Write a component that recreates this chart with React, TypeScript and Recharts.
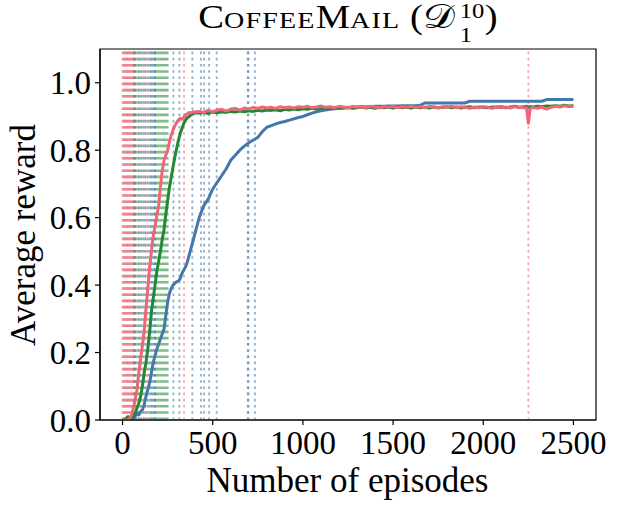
import React from 'react';
import { LineChart, Line, XAxis, YAxis, ReferenceLine, ReferenceArea } from 'recharts';

const episodes = [
  0, 10, 20, 30, 40, 50, 60, 70, 80, 90, 100, 110, 120, 130, 140, 150, 160, 170, 180, 190, 200,
  210, 220, 230, 240, 250, 260, 270, 280, 290, 300, 310, 320, 330, 340, 350, 360, 370, 380, 390, 400,
  425, 450, 475, 500, 525, 550, 575, 600, 625, 650, 675, 700, 725, 750, 775, 800,
  825, 850, 875, 900, 925, 950, 975, 1000, 1025, 1050, 1075, 1100, 1125, 1150, 1175, 1200,
  1225, 1250, 1275, 1300, 1325, 1350, 1375, 1400, 1425, 1450, 1475, 1500, 1525, 1550, 1575, 1600,
  1625, 1650, 1675, 1700, 1725, 1750, 1775, 1800, 1825, 1850, 1875, 1900, 1925, 1950, 1975, 2000,
  2025, 2050, 2075, 2100, 2125, 2150, 2175, 2200, 2225,
  2240, 2250, 2260,
  2275, 2300, 2325, 2350, 2375, 2400, 2425, 2450, 2475, 2500,
];

const blueReward = [
  0, 0, 0, 0, 0, 0, 0.005, 0.01, 0.02, 0.015, 0.025, 0.03, 0.045, 0.07, 0.09, 0.11, 0.14, 0.17, 0.19, 0.21, 0.225,
  0.24, 0.255, 0.27, 0.31, 0.35, 0.375, 0.39, 0.4, 0.405, 0.41, 0.412, 0.42, 0.435, 0.445, 0.455, 0.47, 0.49, 0.51, 0.53, 0.55,
  0.6, 0.635, 0.655, 0.685, 0.705, 0.725, 0.745, 0.77, 0.785, 0.8, 0.812, 0.822, 0.83, 0.838, 0.855, 0.868,
  0.873, 0.878, 0.882, 0.885, 0.889, 0.893, 0.897, 0.9, 0.905, 0.91, 0.914, 0.917, 0.919, 0.921, 0.923, 0.924,
  0.925, 0.926, 0.927, 0.928, 0.928, 0.929, 0.929, 0.93, 0.93, 0.93, 0.931, 0.931, 0.931, 0.932, 0.932, 0.932,
  0.932, 0.933, 0.94, 0.94, 0.94, 0.94, 0.94, 0.94, 0.94, 0.94, 0.94, 0.94, 0.945, 0.945, 0.945, 0.945,
  0.945, 0.945, 0.945, 0.945, 0.945, 0.945, 0.945, 0.945, 0.945,
  0.945, 0.945, 0.945,
  0.945, 0.945, 0.945, 0.95, 0.95, 0.95, 0.95, 0.95, 0.95, 0.95,
];

const greenReward = [
  0, 0, 0.005, 0.01, 0, 0, 0.01, 0.02, 0.035, 0.05, 0.07, 0.1, 0.14, 0.17, 0.21, 0.26, 0.32, 0.36, 0.4, 0.44, 0.47,
  0.5, 0.535, 0.565, 0.61, 0.65, 0.69, 0.72, 0.75, 0.78, 0.805, 0.83, 0.85, 0.865, 0.88, 0.89, 0.897, 0.9, 0.905, 0.908, 0.91,
  0.91, 0.912, 0.909, 0.913, 0.911, 0.914, 0.912, 0.915, 0.913, 0.916, 0.914, 0.917, 0.915, 0.918, 0.916, 0.919,
  0.918, 0.92, 0.917, 0.921, 0.919, 0.922, 0.92, 0.923, 0.921, 0.924, 0.922, 0.925, 0.923, 0.926, 0.924, 0.926,
  0.925, 0.927, 0.924, 0.926, 0.928, 0.925, 0.927, 0.924, 0.928, 0.926, 0.927, 0.925, 0.928, 0.926, 0.927, 0.925,
  0.928, 0.926, 0.927, 0.925, 0.928, 0.926, 0.927, 0.929, 0.926, 0.928, 0.925, 0.927, 0.929, 0.926, 0.928, 0.927,
  0.926, 0.928, 0.927, 0.929, 0.926, 0.928, 0.93, 0.927, 0.929,
  0.93, 0.928, 0.929,
  0.928, 0.93, 0.929, 0.931, 0.93, 0.932, 0.93, 0.933, 0.931, 0.932,
];

const redReward = [
  0, 0, 0, 0, 0.005, 0.015, 0.035, 0.06, 0.09, 0.14, 0.18, 0.22, 0.265, 0.33, 0.39, 0.45, 0.5, 0.545, 0.575, 0.605, 0.635,
  0.69, 0.74, 0.77, 0.785, 0.8, 0.825, 0.845, 0.86, 0.872, 0.882, 0.89, 0.894, 0.892, 0.898, 0.905, 0.908, 0.912, 0.91, 0.914, 0.913,
  0.915, 0.912, 0.918, 0.914, 0.919, 0.921, 0.916, 0.922, 0.924, 0.919, 0.925, 0.922, 0.927, 0.924, 0.928, 0.925,
  0.927, 0.924, 0.929, 0.926, 0.928, 0.925, 0.929, 0.927, 0.93, 0.926, 0.928, 0.931, 0.927, 0.929, 0.926, 0.93,
  0.928, 0.925, 0.93, 0.927, 0.929, 0.926, 0.93, 0.928, 0.925, 0.929, 0.927, 0.93, 0.926, 0.929, 0.927, 0.93,
  0.927, 0.929, 0.926, 0.93, 0.928, 0.925, 0.929, 0.927, 0.93, 0.926, 0.929, 0.927, 0.924, 0.928, 0.926, 0.929,
  0.927, 0.924, 0.929, 0.926, 0.928, 0.925, 0.929, 0.927, 0.926,
  0.925, 0.88, 0.922,
  0.927, 0.924, 0.928, 0.922, 0.927, 0.93, 0.928, 0.932, 0.929, 0.931,
];

const redMarks = [0, 5, 10, 15, 20, 25, 30, 35, 40, 45, 50, 55, 60, 65, 70, 85, 105, 130, 341, 2250];
const greenMarks = [65, 90, 115, 140, 180, 190, 200, 210, 220, 230, 240, 250];
const blueMarks = [75, 100, 125, 150, 158, 165, 172, 180, 282, 315, 387, 435, 452, 480, 522, 694, 698, 734];

const xTicks = [0, 500, 1000, 1500, 2000, 2500];
const yTicks = [0, 0.2, 0.4, 0.6, 0.8, 1.0];

const BLUE = '#4477AA';
const GREEN = '#228833';
const RED = '#EE6677';
const FONT = '"Liberation Serif", "DejaVu Serif", serif';

const rows = episodes.map((ep, i) => ({
  episode: ep,
  blue: blueReward[i],
  green: greenReward[i],
  red: redReward[i],
}));

const tickStyle = { fontSize: 33, fill: '#000', fontFamily: FONT };

export default function App() {
  return (
    <div style={{ position: 'absolute', left: 0, top: 0, width: 617, height: 509, background: '#fff' }}>
      <LineChart width={617} height={509} data={rows} margin={{ top: 49, right: 21, bottom: 29, left: 30 }}>
        <XAxis
          type="number"
          dataKey="episode"
          domain={[-125, 2625]}
          ticks={xTicks}
          allowDataOverflow
          height={60}
          tick={tickStyle}
          tickSize={5}
          tickMargin={6}
          axisLine={{ stroke: '#000', strokeWidth: 1.2 }}
          tickLine={{ stroke: '#000', strokeWidth: 1.2 }}
        />
        <YAxis
          type="number"
          domain={[0, 1.1]}
          ticks={yTicks}
          allowDataOverflow
          width={70}
          tick={tickStyle}
          tickSize={5}
          tickMargin={4}
          tickFormatter={(v: number) => v.toFixed(1)}
          axisLine={{ stroke: '#000', strokeWidth: 1.2 }}
          tickLine={{ stroke: '#000', strokeWidth: 1.2 }}
        />
        {redMarks.map((m) => (
          <ReferenceLine key={'r' + m} x={m} stroke={RED} strokeOpacity={0.6} strokeWidth={1.8} strokeDasharray="2.6 3.6" />
        ))}
        {greenMarks.map((m) => (
          <ReferenceLine key={'g' + m} x={m} stroke={GREEN} strokeOpacity={0.6} strokeWidth={1.8} strokeDasharray="2.6 3.6" />
        ))}
        {blueMarks.map((m) => (
          <ReferenceLine key={'b' + m} x={m} stroke={BLUE} strokeOpacity={0.6} strokeWidth={1.8} strokeDasharray="2.6 3.6" />
        ))}
        <Line type="linear" dataKey="blue" stroke={BLUE} strokeWidth={3} dot={false} isAnimationActive={false} strokeLinejoin="round" />
        <Line type="linear" dataKey="green" stroke={GREEN} strokeWidth={3} dot={false} isAnimationActive={false} strokeLinejoin="round" />
        <Line type="linear" dataKey="red" stroke={RED} strokeWidth={3} dot={false} isAnimationActive={false} strokeLinejoin="round" />
        <ReferenceArea x1={-125} x2={2625} y1={0} y2={1.1} fill="none" fillOpacity={0} stroke="#000" strokeWidth={1.2} />
      </LineChart>
      <svg width={617} height={509} style={{ position: 'absolute', left: 0, top: 0, pointerEvents: 'none', overflow: 'visible' }}>
        <text transform="translate(348,28) scale(1.17,1)" x={0} y={0} textAnchor="middle" fontFamily={FONT} fill="#000">
          <tspan fontSize={33}>C</tspan>
          <tspan fontSize={24} letterSpacing={1}>OFFEE</tspan>
          <tspan fontSize={33}>M</tspan>
          <tspan fontSize={24} letterSpacing={1}>AIL</tspan>
          <tspan fontSize={33}>{' ('}</tspan>
          <tspan fontSize={34} fontFamily={'"DejaVu Serif", "DejaVu Sans", serif'}>𝒟</tspan>
          <tspan fontSize={21} dx={4} dy={-10}>10</tspan>
          <tspan fontSize={21} dx={-21} dy={24}>1</tspan>
          <tspan fontSize={33} dx={11} dy={-14}>)</tspan>
        </text>
        <text x={347.5} y={491.7} textAnchor="middle" fontFamily={FONT} fontSize={35} fill="#000">
          Number of episodes
        </text>
        <text transform="translate(35,235) rotate(-90)" textAnchor="middle" fontFamily={FONT} fontSize={35} fill="#000">
          Average reward
        </text>
      </svg>
    </div>
  );
}
